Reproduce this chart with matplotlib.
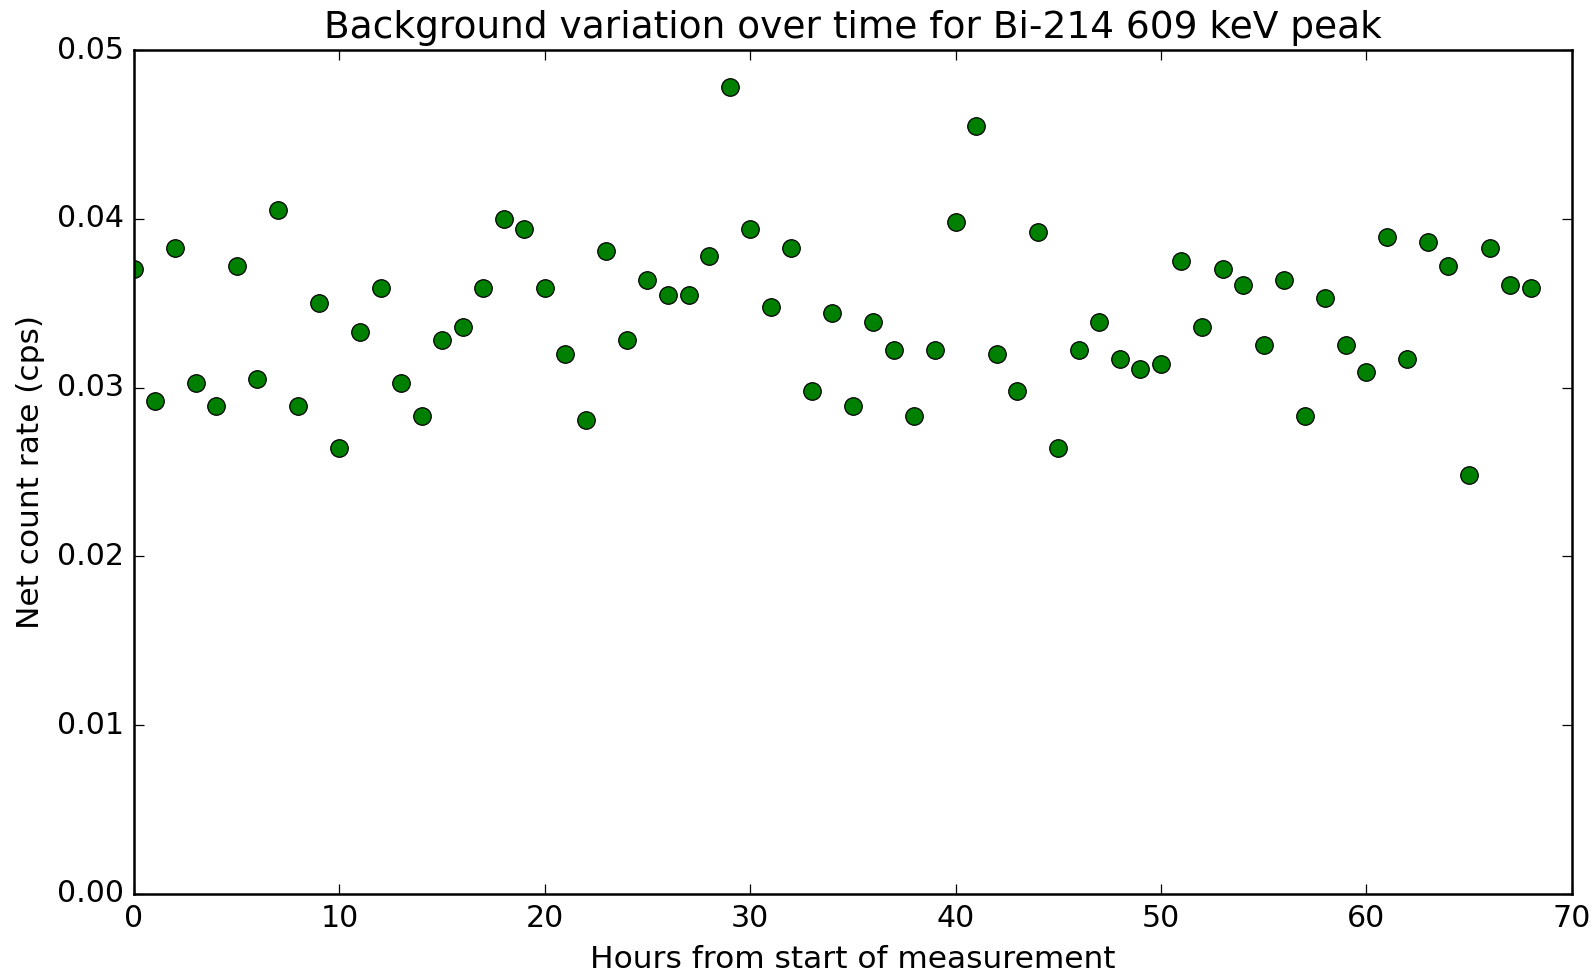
import matplotlib
matplotlib.use("Agg")
import matplotlib.pyplot as plt
import numpy as np

hours = np.arange(0, 69)
rate = [
    0.0370, 0.0292, 0.0383, 0.0303, 0.0289, 0.0372, 0.0305, 0.0405, 0.0289, 0.0350,
    0.0264, 0.0333, 0.0359, 0.0303, 0.0283, 0.0328, 0.0336, 0.0359, 0.0400, 0.0394,
    0.0359, 0.0320, 0.0281, 0.0381, 0.0328, 0.0364, 0.0355, 0.0355, 0.0378, 0.0478,
    0.0394, 0.0348, 0.0383, 0.0298, 0.0344, 0.0289, 0.0339, 0.0322, 0.0283, 0.0322,
    0.0398, 0.0455, 0.0320, 0.0298, 0.0392, 0.0264, 0.0322, 0.0339, 0.0317, 0.0311,
    0.0314, 0.0375, 0.0336, 0.0370, 0.0361, 0.0325, 0.0364, 0.0283, 0.0353, 0.0325,
    0.0309, 0.0389, 0.0317, 0.0386, 0.0372, 0.0248, 0.0383, 0.0361, 0.0359,
]

plt.style.use("classic")
fig = plt.figure(figsize=(1594 / 180, 973 / 180), dpi=180)
ax = fig.add_axes([0.0841, 0.0812, 0.986 - 0.0841, 0.9486 - 0.0812])
ax.plot(hours, rate, "go", markersize=7)
ax.set_xlim(0, 70)
ax.set_ylim(0, 0.05)
ax.set_xlabel("Hours from start of measurement", fontsize=12.5)
ax.set_ylabel("Net count rate (cps)", fontsize=12.5)
ax.set_title("Background variation over time for Bi-214 609 keV peak", fontsize=15)
fig.savefig("out.png", dpi=180, facecolor="white")
